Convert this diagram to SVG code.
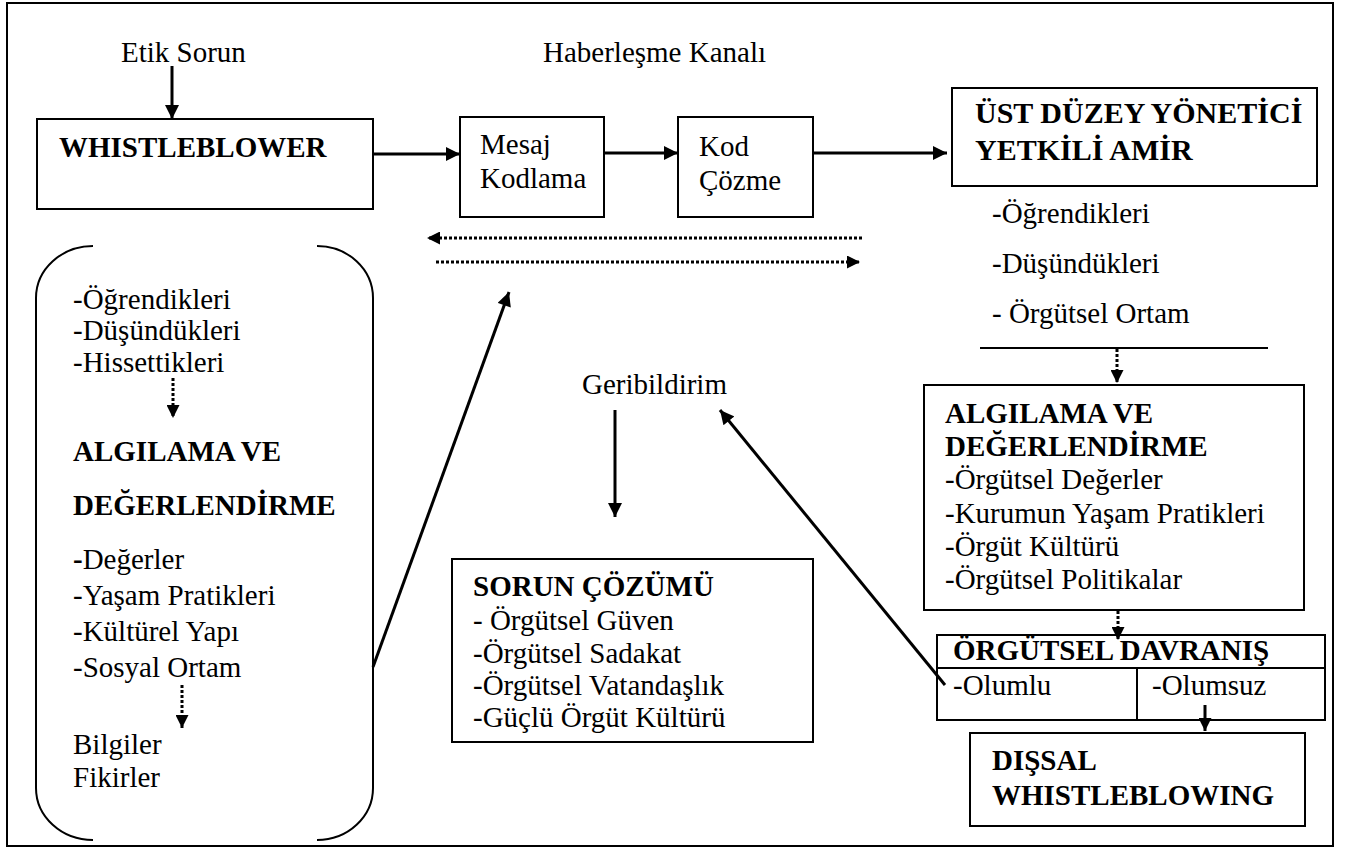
<svg xmlns="http://www.w3.org/2000/svg" width="1346" height="849" viewBox="0 0 1346 849">
<defs>
<marker id="ah" viewBox="0 0 10 10" refX="10" refY="5" markerWidth="15" markerHeight="14" markerUnits="userSpaceOnUse" orient="auto">
<path d="M0,0 L10,5 L0,10 z" fill="#000"/>
</marker>
<marker id="ahs" viewBox="0 0 10 10" refX="10" refY="5" markerWidth="13" markerHeight="13" markerUnits="userSpaceOnUse" orient="auto">
<path d="M0,0 L10,5 L0,10 z" fill="#000"/>
</marker>
</defs>
<style>
text{font-family:"Liberation Serif","Times New Roman",serif;font-size:29px;fill:#000}
.b{font-weight:bold}
.h{font-size:30px}
.box{fill:none;stroke:#000;stroke-width:2}
.ln{fill:none;stroke:#000;stroke-width:3}
.dot{fill:none;stroke:#000;stroke-width:3;stroke-dasharray:3 2}
.br{fill:none;stroke:#000;stroke-width:2}
</style>
<rect x="7" y="3" width="1326" height="843" fill="#fff" stroke="#000" stroke-width="2"/>

<g id="etik">
<text x="121" y="62">Etik Sorun</text>
</g>
<g id="kanal">
<text x="543" y="62">Haberleşme Kanalı</text>
</g>
<g id="whistleblower">
<rect class="box" x="37" y="119" width="336" height="90"/>
<text class="b" x="59" y="157">WHISTLEBLOWER</text>
</g>
<g id="mesaj">
<rect class="box" x="460" y="117" width="144" height="100"/>
<text x="480" y="154">Mesaj</text>
<text x="480" y="188">Kodlama</text>
</g>
<g id="kod">
<rect class="box" x="678" y="117" width="135" height="100"/>
<text x="699" y="156">Kod</text>
<text x="699" y="190">Çözme</text>
</g>
<g id="ust">
<rect class="box" x="952" y="88" width="365" height="98"/>
<text class="b h" x="975" y="123">ÜST DÜZEY YÖNETİCİ</text>
<text class="b h" x="975" y="160">YETKİLİ AMİR</text>
</g>
<g id="ust-items">
<text x="992" y="223">-Öğrendikleri</text>
<text x="992" y="273">-Düşündükleri</text>
<text x="992" y="323">- Örgütsel Ortam</text>
<line x1="980" y1="348" x2="1268" y2="348" stroke="#000" stroke-width="2"/>
</g>
<g id="algilama-sag">
<rect class="box" x="924" y="385" width="380" height="225"/>
<text class="b" x="945" y="423">ALGILAMA VE</text>
<text class="b" x="945" y="456">DEĞERLENDİRME</text>
<text x="945" y="489">-Örgütsel Değerler</text>
<text x="945" y="523">-Kurumun Yaşam Pratikleri</text>
<text x="945" y="556">-Örgüt Kültürü</text>
<text x="945" y="589">-Örgütsel Politikalar</text>
</g>
<g id="davranis">
<rect class="box" x="937" y="635" width="388" height="85"/>
<line x1="937" y1="668" x2="1325" y2="668" stroke="#000" stroke-width="2"/>
<line x1="1137" y1="668" x2="1137" y2="720" stroke="#000" stroke-width="2"/>
<text class="b" x="953" y="660">ÖRGÜTSEL DAVRANIŞ</text>
<text x="953" y="695">-Olumlu</text>
<text x="1152" y="695">-Olumsuz</text>
</g>
<g id="dissal">
<rect class="box" x="970" y="733" width="335" height="93"/>
<text class="b" x="992" y="770">DIŞSAL</text>
<text class="b" x="992" y="805">WHISTLEBLOWING</text>
</g>
<g id="geribildirim">
<text x="582" y="394">Geribildirim</text>
</g>
<g id="sorun">
<rect class="box" x="452" y="559" width="361" height="183"/>
<text class="b" x="473" y="596">SORUN ÇÖZÜMÜ</text>
<text x="473" y="630">- Örgütsel Güven</text>
<text x="473" y="663">-Örgütsel Sadakat</text>
<text x="473" y="695">-Örgütsel Vatandaşlık</text>
<text x="473" y="727">-Güçlü Örgüt Kültürü</text>
</g>
<g id="birey">
<path class="br" d="M93 246 A57 52 0 0 0 36 298 L36 788 A57 52 0 0 0 93 840"/>
<path class="br" d="M317 246 A56 52 0 0 1 373 298 L373 788 A56 52 0 0 1 317 840"/>
<text x="73" y="309">-Öğrendikleri</text>
<text x="73" y="340">-Düşündükleri</text>
<text x="73" y="372">-Hissettikleri</text>
<text class="b" x="73" y="461">ALGILAMA VE</text>
<text class="b" x="73" y="515">DEĞERLENDİRME</text>
<text x="73" y="569"><tspan class="b">-</tspan>Değerler</text>
<text x="73" y="605">-Yaşam Pratikleri</text>
<text x="73" y="641">-Kültürel Yapı</text>
<text x="73" y="677">-Sosyal Ortam</text>
<text x="73" y="754">Bilgiler</text>
<text x="73" y="787">Fikirler</text>
</g>

<g id="connectors">
<line class="ln" x1="172" y1="66" x2="172" y2="119" marker-end="url(#ah)"/>
<line class="ln" x1="373" y1="154" x2="460" y2="154" marker-end="url(#ah)"/>
<line class="ln" x1="604" y1="153" x2="678" y2="153" marker-end="url(#ah)"/>
<line class="ln" x1="813" y1="153" x2="947" y2="153" marker-end="url(#ah)"/>
<line class="dot" x1="862" y1="238" x2="427" y2="238" marker-end="url(#ahs)"/>
<line class="dot" x1="436" y1="262" x2="860" y2="262" marker-end="url(#ahs)"/>
<line class="dot" x1="1117" y1="349" x2="1117" y2="383" marker-end="url(#ahs)"/>
<line class="dot" x1="1118" y1="611" x2="1118" y2="640" marker-end="url(#ahs)"/>
<line class="ln" x1="1205" y1="705" x2="1205" y2="731" marker-end="url(#ahs)"/>
<line class="dot" x1="173" y1="378" x2="173" y2="418" marker-end="url(#ahs)"/>
<line class="dot" x1="182" y1="685" x2="182" y2="728" marker-end="url(#ahs)"/>
<line class="ln" x1="373" y1="667" x2="509" y2="292" marker-end="url(#ah)"/>
<line class="ln" x1="945" y1="685" x2="720" y2="410" marker-end="url(#ah)"/>
<line class="ln" x1="615" y1="410" x2="615" y2="517" marker-end="url(#ah)"/>
</g>
</svg>
